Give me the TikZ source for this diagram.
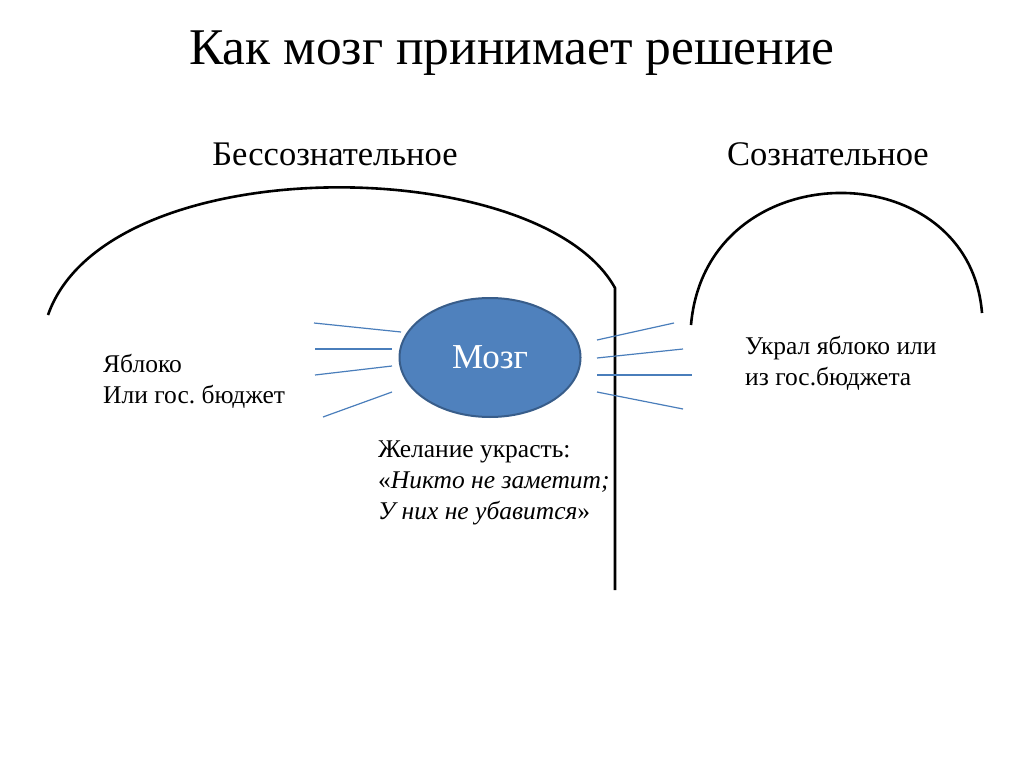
\documentclass[tikz,border=0pt]{standalone}
\usepackage{fontspec}
\setmainfont{Liberation Serif}
\usetikzlibrary{shapes.geometric, positioning}
\definecolor{brainblue}{HTML}{4F81BD}
\definecolor{brainedge}{HTML}{385D8A}
\definecolor{raycolor}{HTML}{4A7EBB}
\tikzstyle{title} = [font=\fontsize{51.5}{54}\selectfont, anchor=base]
\tikzstyle{heading} = [font=\fontsize{34.5}{38}\selectfont, anchor=base]
\tikzstyle{note} = [font=\fontsize{25.5}{31}\selectfont, align=left,
    anchor=north west, inner sep=0pt]
\tikzstyle{brain} = [ellipse, draw=brainedge, line width=2pt, fill=brainblue,
    text=white, minimum width=181pt, minimum height=119pt,
    font=\fontsize{35}{38}\selectfont]
\tikzstyle{border} = [draw, line width=2.6pt]
\tikzstyle{ray} = [draw=raycolor, line width=1.2pt]

\begin{document}
\begin{tikzpicture}[x=1pt, y=-1pt]
    \fill [white] (0,0) rectangle (1024,767);
    \useasboundingbox (0,0) rectangle (1024,767);

    % Titles
    \node [title] (title) at (512,65) {Как мозг принимает решение};
    \node [heading] (unconscious) at (335,166) {Бессознательное};
    \node [heading] (conscious) at (828,166) {Сознательное};

    % Brain
    \node [brain] (brain) at (490,357.5) {Мозг};

    % Domes
    \coordinate (leftfoot) at (48,315);
    \coordinate (walltop) at (615,288);
    \coordinate (wallfoot) at (615,590);
    \coordinate (rightfoot1) at (691,325);
    \coordinate (rightfoot2) at (982,313);
    \draw [border] (leftfoot) .. controls (107,147) and (540,152) .. (walltop) -- (wallfoot);
    \draw [border] (rightfoot1) .. controls (706,151) and (969,151) .. (rightfoot2);

    % Rays
    \foreach \xa/\ya/\xb/\yb in {314/323/401/332, 315/349/392/349,
        315/375/392/366, 323/417/392/392, 597/340/674/323, 597/358/683/349,
        597/375/692/375, 597/392/683/409}
        \draw [ray] (\xa,\ya) -- (\xb,\yb);

    % Texts
    \node [note] (apple) at (103,354) {Яблоко\\Или гос.\ бюджет};
    \node [note] (stole) at (745,336) {Украл яблоко или\\из гос.бюджета};
    \node [note] (wish) at (378,441) {Желание украсть:\\«\textit{Никто не заметит;}\\\textit{У них не убавится}»};
\end{tikzpicture}
\end{document}
